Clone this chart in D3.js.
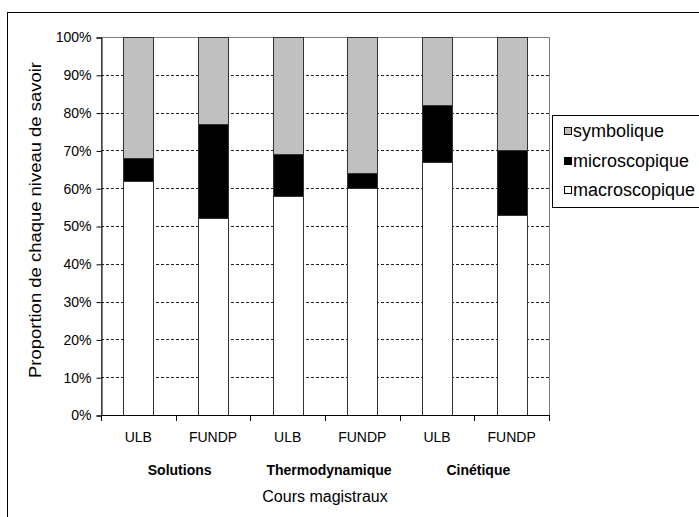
<!DOCTYPE html>
<html><head><meta charset="utf-8">
<script src="https://cdn.jsdelivr.net/npm/d3@7"></script>
<style>body{margin:0;background:#fff}svg{display:block;font-family:"Liberation Sans",Arial,sans-serif}</style>
</head><body>
<svg id="c" width="699" height="517"></svg>
<script>
// ---- data ----
const courses = ["Solutions", "Thermodynamique", "Cinétique"];
const universities = ["ULB", "FUNDP"];
const categories = ["Solutions|ULB", "Solutions|FUNDP", "Thermodynamique|ULB", "Thermodynamique|FUNDP", "Cinétique|ULB", "Cinétique|FUNDP"];
const macroscopique = [62, 52, 58, 60, 67, 53];
const microscopique = [6, 25, 11, 4, 15, 17];
const symbolique = [32, 23, 31, 36, 18, 30];
const seriesNames = ["macroscopique", "microscopique", "symbolique"];
const legendOrder = ["symbolique", "microscopique", "macroscopique"];
const yTicks = [0, 10, 20, 30, 40, 50, 60, 70, 80, 90, 100];
const yTitle = "Proportion de chaque niveau de savoir";
const xTitle = "Cours magistraux";

// ---- drawing ----
const colors = {macroscopique: "#ffffff", microscopique: "#000000", symbolique: "#c0c0c0"};
const svg = d3.select("#c");
const L = 101, R = 549, T = 37, B = 415;

const rows = categories.map((c, i) => ({cat: c, macroscopique: macroscopique[i], microscopique: microscopique[i], symbolique: symbolique[i]}));
const stacked = d3.stack().keys(seriesNames)(rows);

const x = d3.scaleBand().domain(categories).range([L, R]).paddingInner(0.6).paddingOuter(0.3);
const y = d3.scaleLinear().domain([0, 100]).range([B, T]);

// outer frame
svg.append("rect").attr("x", 7.5).attr("y", 12.5).attr("width", 800).attr("height", 600)
  .attr("fill", "none").attr("stroke", "#000").attr("stroke-width", 1);

// gridlines
svg.append("g").selectAll("line").data(yTicks.filter(t => t > 0 && t < 100)).join("line")
  .attr("x1", L).attr("x2", R)
  .attr("y1", d => Math.round(y(d)) + 0.5).attr("y2", d => Math.round(y(d)) + 0.5)
  .attr("stroke", "#222").attr("stroke-dasharray", "3,2");

// plot border
svg.append("rect").attr("x", L + 0.5).attr("y", T + 0.5).attr("width", R - L).attr("height", B - T)
  .attr("fill", "none").attr("stroke", "#808080");

// bars
svg.append("g").selectAll("g").data(stacked).join("g")
  .attr("fill", d => colors[d.key])
  .selectAll("rect").data(d => d).join("rect")
  .attr("x", d => Math.round(x(d.data.cat)) + 0.5)
  .attr("width", Math.round(x.bandwidth()))
  .attr("y", d => Math.round(y(d[1])) + 0.5)
  .attr("height", d => Math.round(y(d[0])) - Math.round(y(d[1])))
  .attr("stroke", "#333").attr("stroke-width", 1);

// y axis
const yAxis = d3.axisLeft(y).tickValues(yTicks).tickFormat(d => d + "%").tickSize(5).tickPadding(5);
const gy = svg.append("g").attr("transform", `translate(${L + 0.5},0.5)`).call(yAxis);
gy.select(".domain").attr("stroke", "#000");
gy.selectAll(".tick line").attr("stroke", "#000");
gy.selectAll(".tick text").attr("font-family", "Liberation Sans, Arial, sans-serif").attr("font-size", 14).attr("fill", "#000");

// x axis: tick marks at band boundaries
const step = x.step();
svg.append("line").attr("x1", L).attr("x2", R + 1).attr("y1", B + 0.5).attr("y2", B + 0.5).attr("stroke", "#000");
svg.append("g").selectAll("line").data(d3.range(categories.length + 1)).join("line")
  .attr("x1", i => Math.round(L + i * step) + 0.5).attr("x2", i => Math.round(L + i * step) + 0.5)
  .attr("y1", B).attr("y2", B + 6).attr("stroke", "#000");

// category labels
svg.append("g").selectAll("text").data(categories).join("text")
  .attr("x", d => x(d) + x.bandwidth() / 2).attr("y", 442)
  .attr("text-anchor", "middle").attr("font-size", 14).attr("fill", "#000")
  .text(d => d.split("|")[1]);

// group labels
svg.append("g").selectAll("text").data(courses).join("text")
  .attr("x", (d, i) => L + (i * 2 + 1) * step + 4).attr("y", 475)
  .attr("text-anchor", "middle").attr("font-size", 14).attr("font-weight", "bold").attr("fill", "#000")
  .text(d => d);

// axis titles
svg.append("text").attr("x", 325).attr("y", 502).attr("text-anchor", "middle")
  .attr("font-size", 16).attr("fill", "#000").text(xTitle);
svg.append("text").attr("transform", `translate(41,220) rotate(-90)`)
  .attr("text-anchor", "middle").attr("font-size", 16).attr("fill", "#000")
  .attr("textLength", 316).attr("lengthAdjust", "spacingAndGlyphs").text(yTitle);

// legend
const lg = svg.append("g");
lg.append("rect").attr("x", 552.5).attr("y", 115.5).attr("width", 200).attr("height", 92)
  .attr("fill", "#fff").attr("stroke", "#000");
const ly = [131, 161, 190];
legendOrder.forEach((k, i) => {
  lg.append("rect").attr("x", 564.5).attr("y", ly[i] - 3.5).attr("width", 7).attr("height", 7)
    .attr("fill", colors[k]).attr("stroke", "#000");
  lg.append("text").attr("x", 573).attr("y", ly[i] + 6).attr("font-size", 18).attr("fill", "#000").text(k);
});
</script>
</body></html>
